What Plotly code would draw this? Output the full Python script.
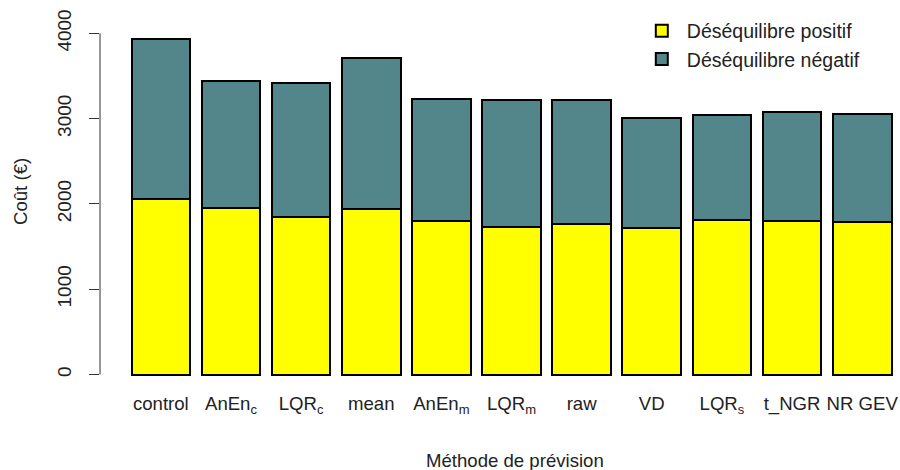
import plotly.graph_objects as go

categories = ["control", "AnEn<sub>c</sub>", "LQR<sub>c</sub>", "mean", "AnEn<sub>m</sub>",
              "LQR<sub>m</sub>", "raw", "VD", "LQR<sub>s</sub>", "t_NGR", "NR GEV"]
positive = [2054, 1952, 1850, 1937, 1803, 1733, 1761, 1714, 1815, 1803, 1788]
total = [3933, 3441, 3414, 3714, 3233, 3222, 3222, 3007, 3046, 3077, 3057]
negative = [t - p for t, p in zip(total, positive)]
y_ticks = [0, 1000, 2000, 3000, 4000]

FONT = "Liberation Sans, Arial, sans-serif"
FS = 19
TXT = "#222"

fig = go.Figure()
fig.add_trace(go.Bar(x=categories, y=positive, name="Déséquilibre positif",
                     marker=dict(color="#FFFF00", line=dict(color="black", width=2))))
fig.add_trace(go.Bar(x=categories, y=negative, name="Déséquilibre négatif",
                     marker=dict(color="#53868B", line=dict(color="black", width=2))))

fig.update_layout(
    width=900, height=470,
    barmode="stack", bargap=0.164,
    plot_bgcolor="white", paper_bgcolor="white",
    margin=dict(l=100, r=0, t=20, b=80),
    font=dict(family=FONT, size=FS, color=TXT),
    showlegend=True,
    legend=dict(x=0.671, y=1.023, xanchor="left", yanchor="top",
                traceorder="normal", itemwidth=40, bgcolor="rgba(0,0,0,0)",
                font=dict(family=FONT, size=19.5, color=TXT)),
    xaxis=dict(range=[-0.8676, 10.539], showline=False, showgrid=False, ticks="",
               zeroline=False, tickfont=dict(family=FONT, size=18.6, color=TXT)),
    yaxis=dict(range=[-181.7, 4156], showline=False, showgrid=False, zeroline=False,
               tickvals=y_ticks, ticktext=[str(v) for v in y_ticks],
               ticks="outside", ticklen=10, tickwidth=1, tickcolor="#333",
               ticklabelstandoff=10,
               tickangle=-90, tickfont=dict(family=FONT, size=FS, color=TXT)),
    shapes=[dict(type="line", xref="paper", yref="y", x0=0, x1=0,
                 y0=y_ticks[0], y1=y_ticks[-1], line=dict(color="#333", width=1))],
    annotations=[
        dict(text="Coût (€)", xref="paper", yref="paper", x=-0.1, y=(390 - 192) / 370,
             xanchor="center", yanchor="middle", textangle=-90, showarrow=False,
             font=dict(family=FONT, size=18.6, color=TXT)),
        dict(text="Méthode de prévision", xref="paper", yref="paper",
             x=(514.5 - 100) / 800, y=(390 - 460) / 370,
             xanchor="center", yanchor="middle", showarrow=False,
             font=dict(family=FONT, size=18.6, color=TXT)),
    ],
)

fig.write_html("out.html", config={"displayModeBar": False},
               post_script="document.body.style.margin='0';document.body.style.overflow='hidden';")
